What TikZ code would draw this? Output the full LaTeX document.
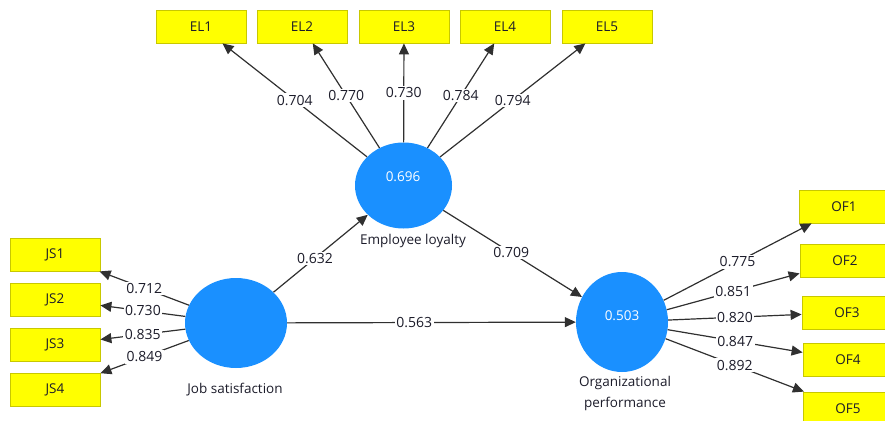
\documentclass[tikz,border=0pt]{standalone}
\usepackage{fontspec}
\setmainfont{Open Sans}
\usetikzlibrary{arrows.meta, shapes.geometric}
\definecolor{colBox}     {HTML}{FFFF00}
\definecolor{colBoxLine} {HTML}{C8C800}
\definecolor{colLatent}  {HTML}{1A90FF}
\definecolor{colLine}    {HTML}{303030}
\definecolor{colText}    {HTML}{1C1C2A}
\tikzset{
  item/.style={
    draw=colBoxLine, fill=colBox, line width=0.8pt,
    minimum width=90pt, minimum height=33pt, inner sep=0pt,
    text=colText, font=\fontsize{13.5}{15}\selectfont
  },
  latent/.style={ellipse, fill=colLatent, draw=none, inner sep=0pt},
  rsq/.style={text=white, font=\fontsize{13.5}{15}\selectfont},
  lname/.style={text=colText, align=center, font=\fontsize{13.5}{21}\selectfont},
  load/.style={
    -{Triangle[length=11pt,width=10pt]},
    line width=1.2pt, draw=colLine
  },
  coef/.style={fill=white, inner sep=1.5pt, text=colText, font=\fontsize{14}{15}\selectfont}
}
\begin{document}
\begin{tikzpicture}[x=1pt, y=-1pt]
  \clip (0,0) rectangle (885,420);
  % latent variables
  \node[latent, minimum width=97pt, minimum height=86pt] (EL) at (403.5,185.5) {};
  \node[latent, minimum width=102pt, minimum height=90pt] (JS) at (236,323) {};
  \node[latent, minimum width=92pt, minimum height=100pt] (OP) at (622,322) {};
  \node[rsq] (ELr) at (403,177) {0.696};
  \node[rsq] (OPr) at (622,316) {0.503};
  \node[lname] (ELn) at (413,241) {Employee loyalty};
  \node[lname] (JSn) at (235,390) {Job satisfaction};
  \node[lname] (OPn) at (625,393) {Organizational\\performance};
  % indicators
  \node[item] (EL1) at (201,26.5) {EL1};
  \node[item] (EL2) at (302,26.5) {EL2};
  \node[item] (EL3) at (404,26.5) {EL3};
  \node[item] (EL4) at (505,26.5) {EL4};
  \node[item] (EL5) at (607,26.5) {EL5};
  \node[item] (JS1) at (55,254.5) {JS1};
  \node[item] (JS2) at (55,299.5) {JS2};
  \node[item] (JS3) at (55,345) {JS3};
  \node[item] (JS4) at (55,390) {JS4};
  \node[item] (OF1) at (844,206.5) {OF1};
  \node[item] (OF2) at (845,261) {OF2};
  \node[item] (OF3) at (847,312.5) {OF3};
  \node[item] (OF4) at (848,360) {OF4};
  \node[item] (OF5) at (848,408.5) {OF5};
  % outer loadings
  \draw[load] (EL) -- node[coef]{0.704} (EL1);
  \draw[load] (EL) -- node[coef]{0.770} (EL2);
  \draw[load] (EL) -- node[coef]{0.730} (EL3);
  \draw[load] (EL) -- node[coef]{0.784} (EL4);
  \draw[load] (EL) -- node[coef]{0.794} (EL5);
  \draw[load] (JS) -- node[coef]{0.712} (JS1);
  \draw[load] (JS) -- node[coef]{0.730} (JS2);
  \draw[load] (JS) -- node[coef]{0.835} (JS3);
  \draw[load] (JS) -- node[coef]{0.849} (JS4);
  \draw[load] (OP) -- node[coef]{0.775} (OF1);
  \draw[load] (OP) -- node[coef]{0.851} (OF2);
  \draw[load] (OP) -- node[coef]{0.820} (OF3);
  \draw[load] (OP) -- node[coef]{0.847} (OF4);
  \draw[load] (OP) -- node[coef]{0.892} (OF5);
  % path coefficients
  \draw[load] (JS) -- node[coef, pos=0.44]{0.632} (EL);
  \draw[load] (JS) -- node[coef, pos=0.44]{0.563} (OP);
  \draw[load] (EL) -- node[coef, pos=0.49]{0.709} (OP);
\end{tikzpicture}
\end{document}
